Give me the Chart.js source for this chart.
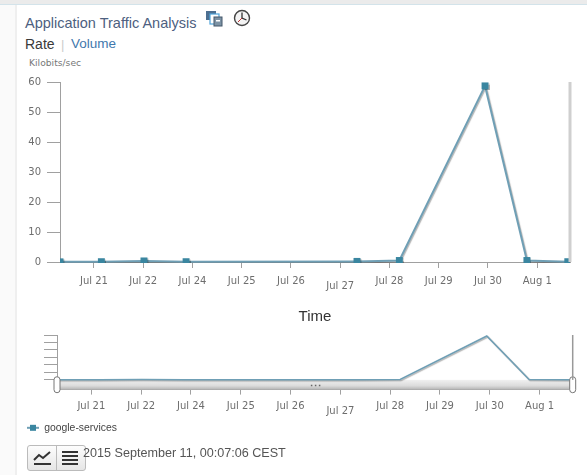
<!DOCTYPE html>
<html>
<head>
<meta charset="utf-8">
<title>Application Traffic Analysis</title>
<script src="https://cdn.jsdelivr.net/npm/chart.js@4"></script>
<style>
    html, body { margin: 0; padding: 0; background: #fff; overflow: hidden; }
    body { width: 587px; height: 475px; position: relative; font-family: "Liberation Sans", Arial, sans-serif; }
    canvas { position: absolute; left: 0; }
    .top-bar { position: absolute; left: 0; top: 0; width: 587px; height: 4px; background: #ebebeb; border-bottom: 1px solid #d3e3ea; }
    .side-bar { position: absolute; left: 0; top: 5px; width: 15px; height: 470px; background: #fafafa; border-right: 2px solid #efefef; }
    .txt { position: absolute; white-space: nowrap; }
    #title { left: 25px; top: 15px; font-size: 14.5px; color: #4d6080; }
    #rate { left: 25px; top: 36px; font-size: 14px; color: #3a3a3a; }
    #sep { left: 61px; top: 37px; font-size: 13px; color: #ccc; }
    #volume { left: 71px; top: 36px; font-size: 13.5px; color: #3f78ad; }
    #unit { left: 29px; top: 57px; font: 9.2px "DejaVu Sans", sans-serif; color: #777; }
    #stamp { left: 83px; top: 446px; font-size: 12.6px; color: #555; }
    .icon { position: absolute; }
    .btns { position: absolute; left: 27px; top: 445px; width: 57px; height: 24px; border: 1px solid #bbb; border-radius: 3px; background: linear-gradient(#fdfdfd, #e6e6e6); }
    .btns i { position: absolute; left: 28px; top: 0; width: 1px; height: 24px; background: #bbb; }
</style>
</head>
<body>
<div class="top-bar"></div>
<div class="side-bar"></div>
<div class="txt" id="title">Application Traffic Analysis</div>
<svg class="icon" style="left:205px;top:10px" width="19" height="18" viewBox="0 0 19 18">
    <rect x="1" y="1" width="10" height="9" fill="#4d6f91"/>
    <rect x="5" y="4" width="9" height="10" fill="#fff" stroke="#4fa3d9" stroke-width="1.2"/>
    <rect x="9" y="7" width="8" height="9" fill="#7d93a5" stroke="#44576a"/>
    <rect x="11" y="10" width="4" height="1.5" fill="#fff"/>
</svg>
<svg class="icon" style="left:233px;top:9px" width="18" height="18" viewBox="0 0 18 18">
    <circle cx="9" cy="9" r="7.5" fill="#f4f4f4" stroke="#444" stroke-width="1.4"/>
    <path d="M9 3.5V9L13.5 11" fill="none" stroke="#333" stroke-width="1.3"/>
    <path d="M9 9L5 13" fill="none" stroke="#b33" stroke-width="1"/>
</svg>
<div class="txt" id="rate">Rate</div>
<div class="txt" id="sep">|</div>
<div class="txt" id="volume">Volume</div>
<div class="txt" id="unit">Kilobits/sec</div>

<canvas id="rateChart" width="587" height="330" style="top:0"></canvas>
<canvas id="navChart" width="587" height="118" style="top:325px"></canvas>

<div class="btns">
    <i></i>
    <svg class="icon" style="left:5px;top:4px" width="20" height="16" viewBox="0 0 20 16">
        <path d="M1 10L6 5L10 8L17 2" fill="none" stroke="#333" stroke-width="2"/>
        <rect x="1" y="13" width="17" height="2" fill="#333"/>
    </svg>
    <svg class="icon" style="left:33px;top:4px" width="18" height="16" viewBox="0 0 18 16">
        <rect x="1" y="1" width="16" height="2" fill="#333"/>
        <rect x="1" y="5" width="16" height="2" fill="#333"/>
        <rect x="1" y="9" width="16" height="2" fill="#333"/>
        <rect x="1" y="13" width="16" height="2" fill="#333"/>
    </svg>
</div>
<div class="txt" id="stamp">2015 September 11, 00:07:06 CEST</div>

<script>
const tickLabels = ['Jul 21', 'Jul 22', 'Jul 24', 'Jul 25', 'Jul 26', 'Jul 27', 'Jul 28', 'Jul 29', 'Jul 30', 'Aug 1'];
const sampleSlots = [-0.69, 0.15, 1.015, 1.87, 5.34, 6.2, 7.94, 8.79, 9.62];
const kilobitsPerSec = [0.05, 0.1, 0.35, 0.1, 0.2, 0.5, 58.7, 0.5, 0.1];
const seriesName = 'google-services';
const loweredLabel = 'Jul 27';

const slotMin = -0.69;
const slotMax = 9.665;
const axisGrey = '#a0a0a0';
const labelGrey = '#6e6e6e';
const lineBlue = '#6f9fb5';
const markerBlue = '#3a86a0';

const points = sampleSlots.map((x, i) => ({ x: x, y: kilobitsPerSec[i] }));

// X axis shared by both charts: one tick per label, Jul 27 sits a bit lower
const buildXAxis = (tickLength, tickPadding) => ({
    type: 'linear',
    min: slotMin,
    max: slotMax,
    afterBuildTicks: (scale) => {
        scale.ticks = tickLabels.map((_, i) => ({ value: i }));
    },
    border: { color: axisGrey },
    grid: { drawOnChartArea: false, tickColor: axisGrey, tickLength: tickLength },
    ticks: {
        autoSkip: false,
        maxRotation: 0,
        padding: tickPadding,
        color: labelGrey,
        callback: (value) => {
            const label = tickLabels[value];
            return label === loweredLabel ? ['', label] : label;
        },
        font: (ctx) => ({
            family: '"DejaVu Sans", sans-serif',
            size: 10,
            lineHeight: ctx.tick && tickLabels[ctx.tick.value] === loweredLabel ? 0.75 : 1.2
        })
    }
});

// Soft grey shadow under the series line
const lineShadow = {
    id: 'lineShadow',
    beforeDatasetDraw: (chart) => {
        const c = chart.ctx;
        c.save();
        c.shadowColor = 'rgba(0,0,0,0.3)';
        c.shadowOffsetX = 1;
        c.shadowOffsetY = 1;
        c.shadowBlur = 1;
    },
    afterDatasetDraw: (chart) => {
        chart.ctx.restore();
    }
};

// Thin vertical line closing the plot on the right
const rightEdge = (color, width) => ({
    id: 'rightEdge',
    afterDraw: (chart) => {
        const c = chart.ctx;
        const area = chart.chartArea;
        c.save();
        c.strokeStyle = color;
        c.lineWidth = width;
        c.beginPath();
        c.moveTo(area.right, area.top);
        c.lineTo(area.right, chart.scales.y.getPixelForValue(0));
        c.stroke();
        c.restore();
    }
});

// Scrollbar band and the two handles of the navigator
const navigatorBand = {
    id: 'navigatorBand',
    beforeDatasetsDraw: (chart) => {
        const c = chart.ctx;
        const area = chart.chartArea;
        const top = chart.scales.y.getPixelForValue(0);
        const fill = c.createLinearGradient(0, top, 0, area.bottom);
        fill.addColorStop(0, '#f0f0f0');
        fill.addColorStop(0.6, '#dcdcdc');
        fill.addColorStop(1, '#b4b4b4');
        c.fillStyle = fill;
        c.fillRect(area.left, top, area.right - area.left, area.bottom - top);
    },
    afterDraw: (chart) => {
        const c = chart.ctx;
        const area = chart.chartArea;
        const midY = (chart.scales.y.getPixelForValue(0) + area.bottom) / 2;
        [area.left, area.right].forEach((x) => {
            c.beginPath();
            c.roundRect(x - 3, midY - 8, 6, 16, 3);
            c.fillStyle = '#fff';
            c.fill();
            c.strokeStyle = '#777';
            c.lineWidth = 1;
            c.stroke();
        });
        c.fillStyle = '#666';
        [-4, 0, 4].forEach((dx) => {
            c.fillRect((area.left + area.right) / 2 + dx, midY, 1.5, 1.5);
        });
    }
};

// Legend symbol: short line through a small square
const legendSymbol = document.createElement('canvas');
legendSymbol.width = 12;
legendSymbol.height = 8;
const symbolCtx = legendSymbol.getContext('2d');
symbolCtx.fillStyle = lineBlue;
symbolCtx.fillRect(0, 3, 12, 2);
symbolCtx.fillStyle = markerBlue;
symbolCtx.fillRect(3, 1, 6, 6);

const rateChart = new Chart(document.getElementById('rateChart'), {
    type: 'line',
    data: {
        datasets: [{
            label: seriesName,
            data: points,
            borderColor: lineBlue,
            borderWidth: 2,
            tension: 0,
            pointStyle: 'rect',
            pointRadius: 4.9,
            pointBorderWidth: 0,
            pointBackgroundColor: markerBlue,
            clip: { left: 0, right: 0, top: 10, bottom: 1 }
        }]
    },
    options: {
        responsive: false,
        animation: false,
        layout: { padding: { top: 82, right: 17, left: 0, bottom: 0 } },
        plugins: { legend: { display: false }, tooltip: { enabled: false } },
        scales: {
            x: Object.assign(buildXAxis(6, 7), {
                afterFit: (scale) => { scale.height = 68; },
                title: {
                    display: true,
                    text: 'Time',
                    color: '#333',
                    padding: { top: 0, bottom: 4 },
                    font: { family: '"Liberation Sans", Arial, sans-serif', size: 15 }
                }
            }),
            y: {
                min: 0,
                max: 60,
                afterFit: (scale) => { scale.width = 60; },
                border: { color: axisGrey },
                grid: { drawOnChartArea: false, tickColor: axisGrey, tickLength: 13 },
                ticks: {
                    stepSize: 10,
                    padding: 6,
                    color: labelGrey,
                    font: { family: '"DejaVu Sans", sans-serif', size: 10 }
                }
            }
        }
    },
    plugins: [lineShadow, rightEdge('#cfcfcf', 3)]
});

const navChart = new Chart(document.getElementById('navChart'), {
    type: 'line',
    data: {
        datasets: [{
            label: seriesName,
            data: points,
            borderColor: lineBlue,
            borderWidth: 1.5,
            tension: 0,
            pointRadius: 0,
            clip: { left: 0, right: 0, top: 5, bottom: 0 }
        }]
    },
    options: {
        responsive: false,
        animation: false,
        layout: { padding: { top: 10, right: 14.3, left: 22, bottom: 0 } },
        plugins: {
            tooltip: { enabled: false },
            legend: {
                position: 'bottom',
                align: 'start',
                labels: {
                    padding: 5,
                    usePointStyle: true,
                    pointStyleWidth: 12,
                    color: '#444',
                    font: { family: '"Liberation Sans", Arial, sans-serif', size: 10.4 },
                    generateLabels: (chart) => [{
                        text: seriesName,
                        pointStyle: legendSymbol,
                        fontColor: '#444',
                        lineWidth: 0,
                        datasetIndex: 0
                    }]
                }
            }
        },
        scales: {
            x: Object.assign(buildXAxis(5, 6), {
                afterFit: (scale) => { scale.height = 28; }
            }),
            y: {
                // scale runs below zero so the band fits under the line
                min: -13,
                max: 60,
                afterBuildTicks: (scale) => {
                    scale.ticks = scale.ticks.filter((t) => t.value >= 0);
                },
                afterFit: (scale) => { scale.width = 35; },
                border: { color: axisGrey },
                grid: { drawOnChartArea: false, tickColor: axisGrey, tickLength: 13 },
                ticks: { stepSize: 10, display: false }
            }
        }
    },
    plugins: [navigatorBand, lineShadow, rightEdge('#999999', 1.5)]
});
</script>
</body>
</html>
